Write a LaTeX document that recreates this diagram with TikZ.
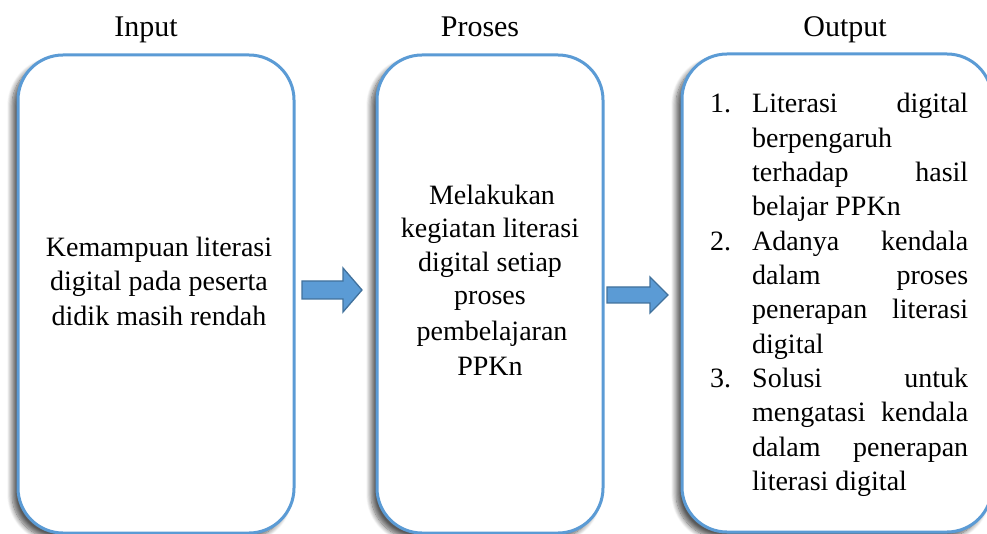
\documentclass[tikz,border=0pt]{standalone}
\usepackage{fontspec}
\setmainfont{Liberation Serif}
\usetikzlibrary{shadows.blur}
\definecolor{boxblue}{HTML}{5B9BD5}
\definecolor{arrowedge}{HTML}{41719C}
\begin{document}
\begin{tikzpicture}[x=1pt,y=-1pt,
  panel/.style={draw=boxblue, line width=3pt, rounded corners=45pt, fill=white,
    blur shadow={shadow xshift=-6pt, shadow yshift=-6pt, shadow blur radius=5pt, shadow blur steps=10, shadow opacity=65},
    inner sep=0pt},
  lab/.style={anchor=base, inner sep=0pt, font=\fontsize{30}{36}\selectfont},
  body/.style={anchor=base, inner sep=0pt, font=\fontsize{28}{34}\selectfont},
  bodyl/.style={anchor=base west, inner sep=0pt, font=\fontsize{28}{34}\selectfont},
  blockarrow/.style={fill=boxblue, draw=arrowedge, line width=1.3pt, line join=miter}
]
\useasboundingbox (0,0) rectangle (987,534);

% panels
\node[panel, minimum width=276pt, minimum height=478pt] (b1) at (156,294) {};
\node[panel, minimum width=226pt, minimum height=478pt] (b2) at (490,294) {};
\node[panel, minimum width=310pt, minimum height=478pt] (b3) at (837,293) {};

% headings
\node[lab] (lin) at (146,37) {Input};
\node[lab] (lpr) at (480,37) {Proses};
\node[lab] (lou) at (845,37) {Output};

% block arrows
\draw[blockarrow] (302,281) -- (343,281) -- (343,268) -- (362,290) -- (343,312) -- (343,299) -- (302,299) -- cycle;
\draw[blockarrow] (607,287) -- (650,287) -- (650,277) -- (668,295) -- (650,313) -- (650,303) -- (607,303) -- cycle;

% box 1 text
\node[body] (t1a) at (159,257) {Kemampuan literasi};
\node[body] (t1b) at (159,291) {digital pada peserta};
\node[body] (t1c) at (159,325) {didik masih rendah};

% box 2 text
\node[body] (t2a) at (492,205) {Melakukan};
\node[body] (t2b) at (490,238) {kegiatan literasi};
\node[body] (t2c) at (490,272) {digital setiap};
\node[body] (t2d) at (490,305) {proses};
\node[body] (t2e) at (492,340) {pembelajaran};
\node[body] (t2f) at (490,375) {PPKn};

% box 3 text
\def\jw{216pt}
\node[bodyl] (n1) at (710,113) {1.};
\node[bodyl] (t3a) at (752,113) {\makebox[\jw][s]{Literasi digital}};
\node[bodyl] (t3b) at (752,147.3) {berpengaruh};
\node[bodyl] (t3c) at (752,181.6) {\makebox[\jw][s]{terhadap hasil}};
\node[bodyl] (t3d) at (752,215.9) {belajar PPKn};
\node[bodyl] (n2) at (710,250.2) {2.};
\node[bodyl] (t3e) at (752,250.2) {\makebox[\jw][s]{Adanya kendala}};
\node[bodyl] (t3f) at (752,284.5) {\makebox[\jw][s]{dalam proses}};
\node[bodyl] (t3g) at (752,318.8) {\makebox[\jw][s]{penerapan literasi}};
\node[bodyl] (t3h) at (752,353.1) {digital};
\node[bodyl] (n3) at (710,387.4) {3.};
\node[bodyl] (t3i) at (752,387.4) {\makebox[\jw][s]{Solusi untuk}};
\node[bodyl] (t3j) at (752,421.7) {\makebox[\jw][s]{mengatasi kendala}};
\node[bodyl] (t3k) at (752,456) {\makebox[\jw][s]{dalam penerapan}};
\node[bodyl] (t3l) at (752,490.3) {literasi digital};
\end{tikzpicture}
\end{document}
